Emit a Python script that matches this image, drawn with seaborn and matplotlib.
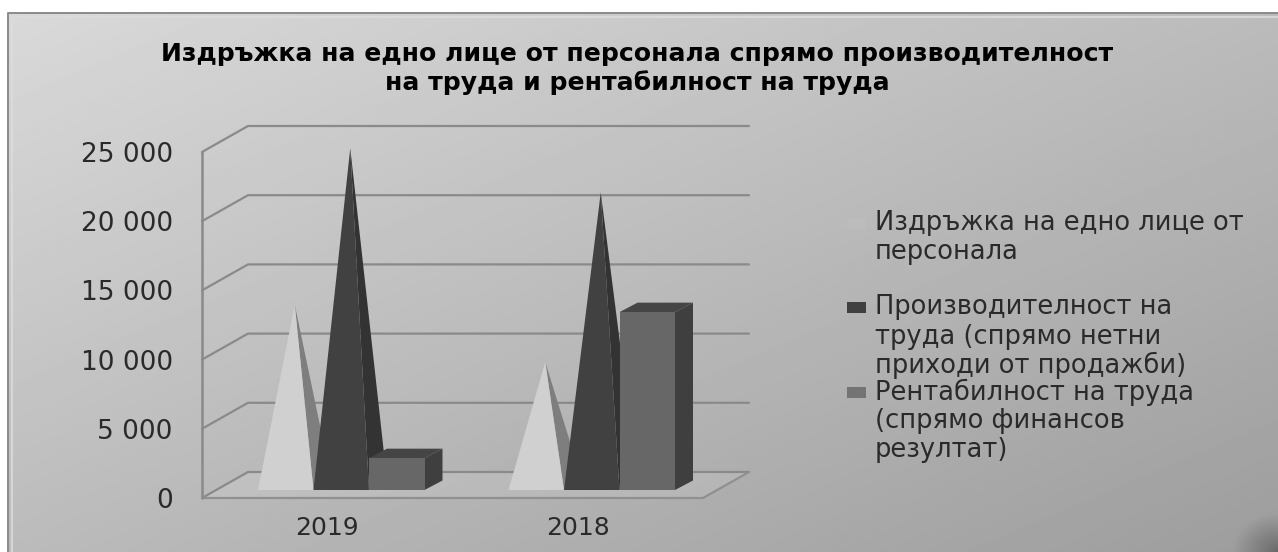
import numpy as np
import pandas as pd
import matplotlib
matplotlib.use("Agg")
import matplotlib.pyplot as plt
from matplotlib.patches import Polygon, Rectangle
import seaborn as sns

# Chart content
years = ["2019", "2018"]
series_names = ["Издръжка", "Производителност", "Рентабилност"]
upkeep = [13400, 9250]
productivity = [24700, 21500]
profitability = [2300, 12850]
y_ticks = [0, 5000, 10000, 15000, 20000, 25000]
title_lines = ["Издръжка на едно лице от персонала спрямо производителност",
               "на труда и рентабилност на труда"]
legend_groups = [["Издръжка на едно лице от", "персонала"],
                 ["Производителност на", "труда (спрямо нетни", "приходи от продажби)"],
                 ["Рентабилност на труда", "(спрямо финансов", "резултат)"]]

# Face colours per series: front, side, top
front_colors = ["#d0d0d0", "#414141", "#676767"]
side_colors = ["#7e7e7e", "#333333", "#3f3f3f"]
top_color = "#454545"
marker_colors = ["#bcbcbc", "#404040", "#747474"]
grid_color = "#8a8a8a"
text_color = "#2a2a2a"

W, H = 1278, 552
sns.set_theme(style="white")
plt.rcParams["font.family"] = ["DejaVu Sans"]
fig = plt.figure(figsize=(W / 100, H / 100), dpi=100, facecolor="white")


def px_rect(left, top, right, bottom):
    """Axes rectangle from pixel edges measured from the top-left corner."""
    return [left / W, 1 - bottom / H, (right - left) / W, (bottom - top) / H]


# Panel background: diagonal grey gradient with a small dark corner at the lower right
bg = fig.add_axes(px_rect(8, 13, W, H), zorder=0)
yy, xx = np.mgrid[0:1:300j, 0:1:640j]
shade = 217 - 60 * (0.5 * xx + 0.5 * yy)
corner = np.clip(1 - np.hypot((xx - 1.0) / 0.035, (yy - 1.0) / 0.07), 0, 1)
shade = shade - 50 * corner
bg.imshow(shade, cmap="gray", vmin=0, vmax=255, aspect="auto", interpolation="bilinear")
bg.set_axis_off()
fig.add_artist(plt.Line2D([8 / W, 8 / W, 1], [0, 1 - 13 / H, 1 - 13 / H], color="#8a8a8a", lw=1.4))
fig.add_artist(plt.Line2D([12 / W, 12 / W, 1], [0, 1 - 17 / H, 1 - 17 / H], color="#dcdcdc", lw=1.2))

# Wall and floor grid, anchored on the front plane of the plot
wall_left, wall_right, wall_top, wall_bottom = 202, 703, 152, 498
ax = fig.add_axes(px_rect(wall_left, wall_top, wall_right, wall_bottom), zorder=1)
ax.patch.set_alpha(0)
ax.set_xlim(-0.5, 1.5)
ax.set_ylim(0, 25000)
cat_px = (wall_right - wall_left) / 2
val_px = 25000 / (wall_bottom - wall_top)
depth_x, depth_y = 46 / cat_px, 26 * val_px

ax.add_patch(Polygon([(-0.5, 0), (1.5, 0), (1.5 + depth_x, depth_y), (-0.5 + depth_x, depth_y)],
                     closed=True, facecolor="#ffffff", alpha=0.10, edgecolor="none", clip_on=False))
for tick in y_ticks:
    ax.plot([-0.5, -0.5 + depth_x, 1.5 + depth_x], [tick, tick + depth_y, tick + depth_y],
            color=grid_color, lw=1.6, clip_on=False, solid_joinstyle="miter")
ax.plot([-0.5, 1.5, 1.5 + depth_x], [0, 0, depth_y], color="#909090", lw=1.6, clip_on=False)
ax.plot([-0.5, -0.5], [0, 25000], color=grid_color, lw=1.8, clip_on=False)

ax.set_xticks([0, 1], years)
ax.set_yticks(y_ticks, [f"{t:,}".replace(",", " ") for t in y_ticks])
ax.tick_params(axis="y", length=0, pad=21, labelsize=19, labelcolor=text_color)
ax.tick_params(axis="x", length=0, pad=13, labelsize=18, labelcolor=text_color)
sns.despine(ax=ax, left=True, bottom=True)

# Series sit on a plane set back from the front edge of the floor
marks = fig.add_axes(px_rect(wall_left + 14, wall_top - 8, wall_right + 14, wall_bottom - 8), zorder=2)
marks.patch.set_alpha(0)
table = pd.DataFrame({
    "year": years * 3,
    "series": np.repeat(series_names, len(years)),
    "value": upkeep + productivity + profitability,
})
sns.barplot(data=table, x="year", y="value", hue="series", order=years, hue_order=series_names,
            palette=front_colors, saturation=1, width=3 * 55.5 / cat_px, gap=0, legend=False,
            linewidth=0, edgecolor="none", ax=marks)
marks.set_xlim(-0.5, 1.5)
marks.set_ylim(0, 25000)
marks.set_axis_off()

bar_dx, bar_dy = 18 / cat_px, 9.5 * val_px

# Pyramids: front and right faces rise from the bar footprint to an apex over its centre
for idx in (0, 1):
    for bar in marks.containers[idx]:
        x0, w, v = bar.get_x(), bar.get_width(), bar.get_height()
        apex = (x0 + w / 2 + bar_dx / 2, v)
        marks.add_patch(Polygon([(x0 + w, 0), (x0 + w + bar_dx, bar_dy), apex], closed=True,
                                facecolor=side_colors[idx], edgecolor="none", clip_on=False, zorder=3 + 2 * idx))
        marks.add_patch(Polygon([(x0, 0), (x0 + w, 0), apex], closed=True,
                                facecolor=front_colors[idx], edgecolor="none", clip_on=False, zorder=4 + 2 * idx))
        bar.set_visible(False)

# Column series: seaborn's rectangle is the front face, side and top add the depth
for bar in marks.containers[2]:
    x0, w, v = bar.get_x(), bar.get_width(), bar.get_height()
    bar.set_zorder(9)
    marks.add_patch(Polygon([(x0 + w, 0), (x0 + w + bar_dx, bar_dy), (x0 + w + bar_dx, v + bar_dy), (x0 + w, v)],
                            closed=True, facecolor=side_colors[2], edgecolor="none", clip_on=False, zorder=8))
    marks.add_patch(Polygon([(x0, v), (x0 + w, v), (x0 + w + bar_dx, v + bar_dy), (x0 + bar_dx, v + bar_dy)],
                            closed=True, facecolor=top_color, edgecolor="none", clip_on=False, zorder=8))

# Title
for line, y in zip(title_lines, (54, 83)):
    fig.text(637 / W, 1 - y / H, line, ha="center", va="center", fontsize=18.1,
             fontweight="bold", color="black")

# Legend
line_y = [[223, 252], [307, 337, 365], [392, 421, 450]]
for group, ys, color in zip(legend_groups, line_y, marker_colors):
    for line, y in zip(group, ys):
        fig.text(875 / W, 1 - y / H, line, ha="left", va="center", fontsize=18.5, color=text_color)
    fig.add_artist(Rectangle((847 / W, 1 - (ys[0] + 6) / H), 19 / W, 11 / H, transform=fig.transFigure,
                             facecolor=color, edgecolor="none"))

fig.savefig("out.png", dpi=100, facecolor="white")
